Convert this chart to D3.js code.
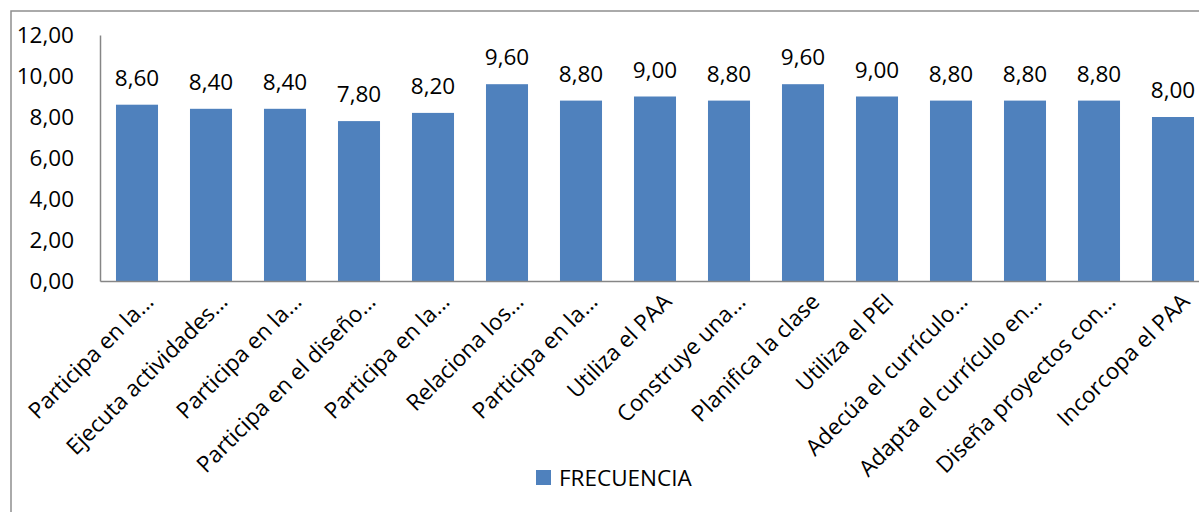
<!DOCTYPE html>
<html>
<head>
<meta charset="utf-8">
<script src="https://cdn.jsdelivr.net/npm/d3@7"></script>
<style>
  html, body { margin: 0; padding: 0; background: #fff; }
  svg { display: block; }
  text { font-family: "Open Sans", "Noto Sans", sans-serif; fill: #000; }
</style>
</head>
<body>
<svg id="chart" width="1199" height="512"></svg>
<script>
// Categories and their frequency values
const categories = [
  "Participa en la...",
  "Ejecuta actividades...",
  "Participa en la...",
  "Participa en el diseño...",
  "Participa en la...",
  "Relaciona los...",
  "Participa en la...",
  "Utiliza el PAA",
  "Construye una...",
  "Planifica la clase",
  "Utiliza el PEI",
  "Adecúa el currículo...",
  "Adapta el currículo en...",
  "Diseña proyectos con...",
  "Incorcopa el PAA"
];
const frecuencia = [8.6, 8.4, 8.4, 7.8, 8.2, 9.6, 8.8, 9.0, 8.8, 9.6, 9.0, 8.8, 8.8, 8.8, 8.0];
const yTicks = [0, 2, 4, 6, 8, 10, 12];
const seriesName = "FRECUENCIA";

const svg = d3.select("#chart");
const barColor = "#4F81BD";
const fontSize = 22.5;
const fmt = v => v.toFixed(2).replace(".", ",");

// Outer chart frame
svg.append("rect")
  .attr("x", 11).attr("y", 11)
  .attr("width", 1250).attr("height", 600)
  .attr("fill", "none")
  .attr("stroke", "#8E8E8E")
  .attr("stroke-width", 1.5);

const plotLeft = 100, plotRight = 1210, plotTop = 35, plotBottom = 281;

const x = d3.scaleBand()
  .domain(d3.range(categories.length))
  .range([plotLeft, plotRight])
  .paddingInner(0.432)
  .paddingOuter(0.216);

const y = d3.scaleLinear()
  .domain([0, 12])
  .range([plotBottom, plotTop]);

// Bars
svg.append("g").selectAll("rect")
  .data(frecuencia)
  .join("rect")
  .attr("x", (d, i) => x(i))
  .attr("y", d => y(d))
  .attr("width", x.bandwidth())
  .attr("height", d => y(0) - y(d))
  .attr("fill", barColor);

// Value labels above bars
svg.append("g").selectAll("text")
  .data(frecuencia)
  .join("text")
  .attr("x", (d, i) => x(i) + x.bandwidth() / 2)
  .attr("y", d => y(d) - 19)
  .attr("text-anchor", "middle")
  .attr("font-size", fontSize)
  .text(d => fmt(d));

// Y axis
const yAxis = d3.axisLeft(y)
  .tickValues(yTicks)
  .tickSize(0)
  .tickPadding(26)
  .tickFormat(fmt);
const gy = svg.append("g")
  .attr("transform", `translate(${plotLeft},0)`)
  .call(yAxis);
gy.select(".domain").attr("stroke", "#868686").attr("stroke-width", 1.5);
gy.selectAll("text").attr("font-size", fontSize).attr("font-family", "Open Sans, Noto Sans, sans-serif");

// X axis with rotated category labels
const xAxis = d3.axisBottom(x)
  .tickSize(0)
  .tickFormat(i => categories[i]);
const gx = svg.append("g")
  .attr("transform", `translate(0,${plotBottom})`)
  .call(xAxis);
gx.select(".domain").attr("stroke", "#868686").attr("stroke-width", 1.5);
gx.selectAll(".tick text")
  .attr("font-size", fontSize)
  .attr("font-family", "Open Sans, Noto Sans, sans-serif")
  .attr("text-anchor", "end")
  .attr("dy", 0)
  .attr("y", 0)
  .attr("transform", "translate(18,22) rotate(-45)");

// Legend
const legend = svg.append("g").attr("transform", "translate(536,470)");
legend.append("rect")
  .attr("width", 15).attr("height", 15)
  .attr("fill", barColor);
legend.append("text")
  .attr("x", 23).attr("y", 15.5)
  .attr("font-size", fontSize)
  .text(seriesName);
</script>
</body>
</html>
